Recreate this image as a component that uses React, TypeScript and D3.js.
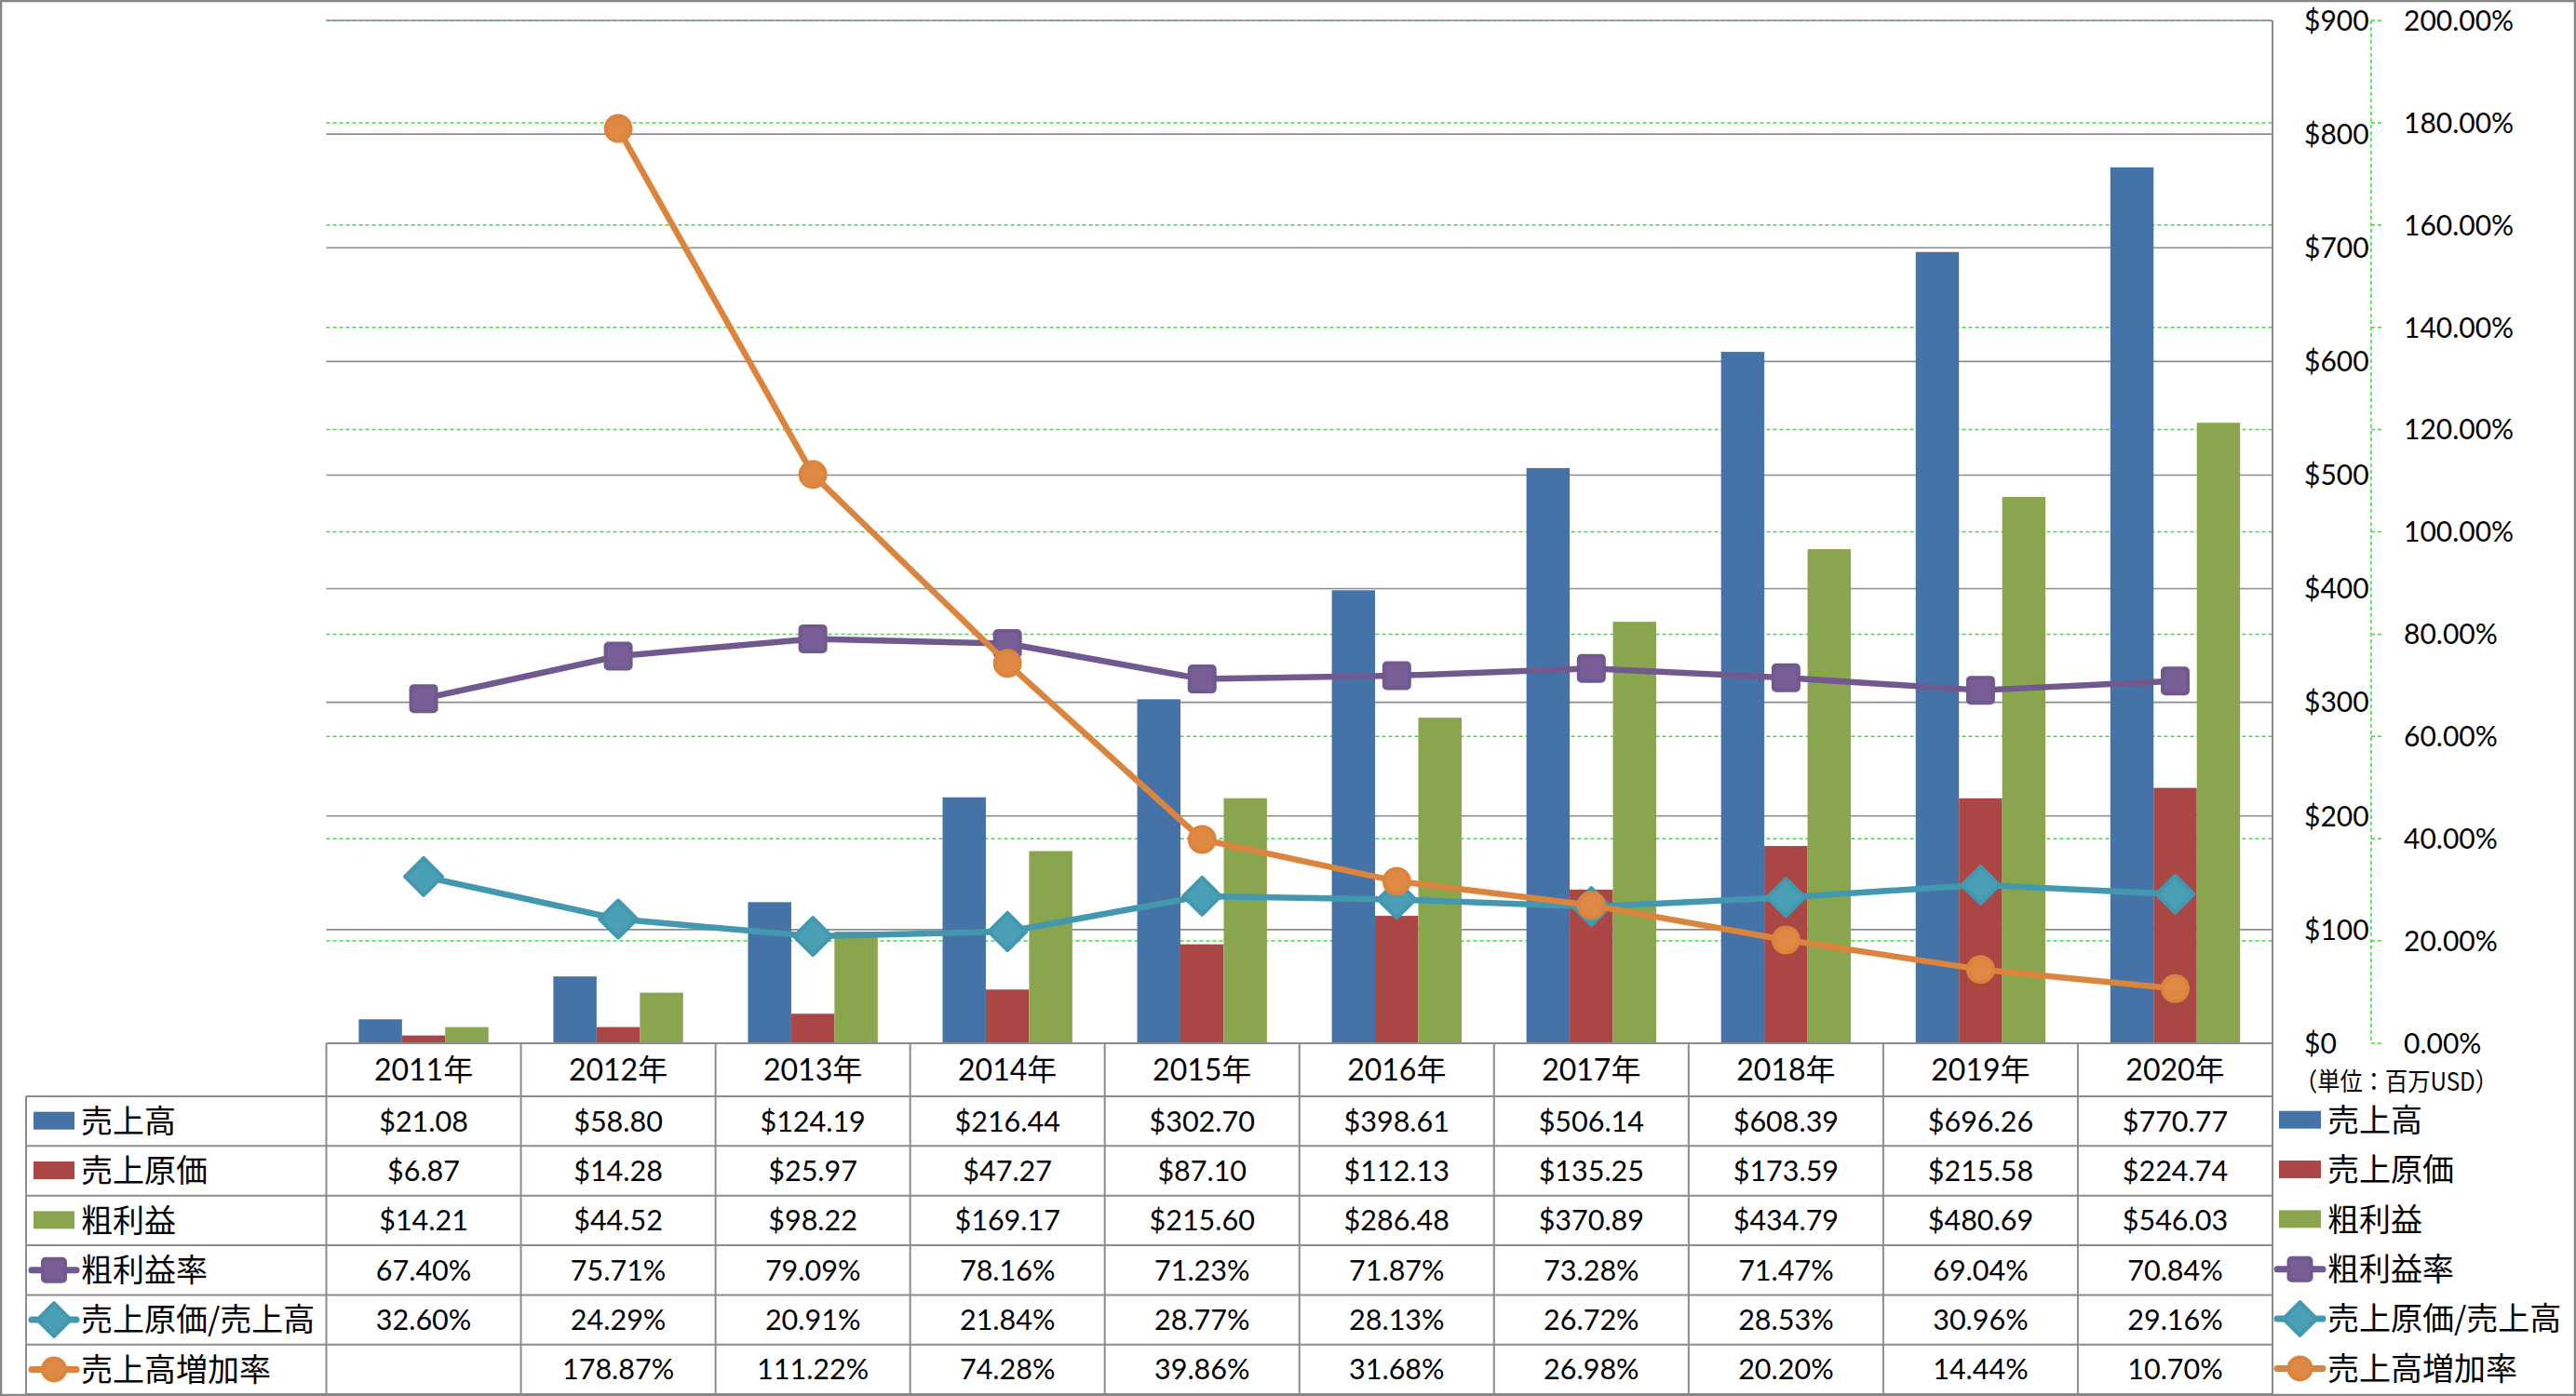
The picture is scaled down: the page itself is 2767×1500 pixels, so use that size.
import React, { useEffect } from "react";
import * as d3 from "d3";

const years = ["2011年", "2012年", "2013年", "2014年", "2015年", "2016年", "2017年", "2018年", "2019年", "2020年"];
const sales = [21.08, 58.8, 124.19, 216.44, 302.7, 398.61, 506.14, 608.39, 696.26, 770.77];
const cogs = [6.87, 14.28, 25.97, 47.27, 87.1, 112.13, 135.25, 173.59, 215.58, 224.74];
const gross = [14.21, 44.52, 98.22, 169.17, 215.6, 286.48, 370.89, 434.79, 480.69, 546.03];
const grossMargin = [67.4, 75.71, 79.09, 78.16, 71.23, 71.87, 73.28, 71.47, 69.04, 70.84];
const cogsRatio = [32.6, 24.29, 20.91, 21.84, 28.77, 28.13, 26.72, 28.53, 30.96, 29.16];
const growth: (number | null)[] = [null, 178.87, 111.22, 74.28, 39.86, 31.68, 26.98, 20.2, 14.44, 10.7];

const primaryTicks = [0, 100, 200, 300, 400, 500, 600, 700, 800, 900];
const secondaryTicks = [0, 20, 40, 60, 80, 100, 120, 140, 160, 180, 200];
const unitLabel = "（単位：百万USD）";

const barSeries = [
  { name: "売上高", values: sales, color: "#4572A7" },
  { name: "売上原価", values: cogs, color: "#AA4643" },
  { name: "粗利益", values: gross, color: "#89A54E" },
];
const lineSeries = [
  { name: "粗利益率", values: grossMargin as (number | null)[], color: "#71588F", fill: "#775E96", marker: "square" },
  { name: "売上原価/売上高", values: cogsRatio as (number | null)[], color: "#4198AF", fill: "#4A9FB5", marker: "diamond" },
  { name: "売上高増加率", values: growth, color: "#DB843D", fill: "#DE8A45", marker: "circle" },
];

const W = 2767;
const H = 1500;
const plotL = 350.5;
const plotR = 2441;
const plotT = 22;
const plotB = 1121;
const headerB = 1178;
const rowH = 53.35;
const tableL = 28;
const FONT = "Lato, 'Noto Sans CJK JP', sans-serif";
const JFONT = "'Noto Sans CJK JP', Lato, sans-serif";
const GRID = "#8C8C8C";
const GREEN = "#22EE22";

function Marker({ type, x, y, size, color, fill }: { type: string; x: number; y: number; size: number; color: string; fill: string }) {
  const h = size / 2;
  if (type === "square") {
    return <rect x={x - h + 2} y={y - h + 2} width={size - 4} height={size - 4} rx={3} fill={fill} stroke={color} strokeWidth={4} strokeLinejoin="round" />;
  }
  if (type === "diamond") {
    const d = h * 1.42 - 2;
    return <path d={`M${x},${y - d}L${x + d},${y}L${x},${y + d}L${x - d},${y}Z`} fill={fill} stroke={color} strokeWidth={4} strokeLinejoin="round" />;
  }
  return <circle cx={x} cy={y} r={h - 2} fill={fill} stroke={color} strokeWidth={4} />;
}

export default function App() {
  useEffect(() => {
    document.body.style.margin = "0";
    document.body.style.overflow = "hidden";
  }, []);

  const x = d3.scaleBand<string>().domain(years).range([plotL, plotR]).padding(0);
  const bw = x.bandwidth();
  const barW = bw / 4.5;
  const sub = d3.scaleBand<string>().domain(barSeries.map((s) => s.name)).range([barW * 0.75, bw - barW * 0.75]).padding(0);
  const y1 = d3.scaleLinear().domain([0, 900]).range([plotB, plotT]);
  const y2 = d3.scaleLinear().domain([0, 200]).range([plotB, plotT]);
  const cx = (i: number) => (x(years[i]) as number) + bw / 2;

  const line = d3
    .line<number | null>()
    .defined((d) => d !== null)
    .x((_, i) => cx(i))
    .y((d) => y2(d as number));

  const rowY = (r: number) => headerB + r * rowH;
  const rows = [
    ...barSeries.map((s) => ({ ...s, kind: "bar", fmt: (v: number | null) => (v == null ? "" : "$" + v.toFixed(2)) })),
    ...lineSeries.map((s) => ({ ...s, kind: "line", fmt: (v: number | null) => (v == null ? "" : v.toFixed(2) + "%") })),
  ];

  const legendKey = (s: any, x0: number, x1: number, yc: number, msize: number) => {
    if (s.kind === "bar") {
      return <rect x={x0 + 2} y={yc - 10} width={x1 - x0 - 4} height={19} fill={s.color} />;
    }
    return (
      <g>
        <line x1={x0} x2={x1} y1={yc} y2={yc} stroke={s.color} strokeWidth={7} strokeLinecap="round" />
        <Marker type={s.marker} x={(x0 + x1) / 2} y={yc} size={msize} color={s.color} fill={s.fill} />
      </g>
    );
  };

  return (
    <svg width={W} height={H} style={{ position: "absolute", left: 0, top: 0, background: "#fff" }}>
      <rect x={0} y={0} width={W} height={H} fill="#fff" />
      {/* secondary gridlines (green dashed) */}
      {secondaryTicks.slice(1).map((t) => (
        <line key={"g2" + t} x1={plotL} x2={plotR} y1={y2(t)} y2={y2(t)} stroke={GREEN} strokeWidth={1.5} strokeDasharray="4 3" />
      ))}
      {/* primary gridlines */}
      {primaryTicks.slice(1).map((t) => (
        <line key={"g1" + t} x1={plotL} x2={plotR} y1={y1(t)} y2={y1(t)} stroke={GRID} strokeWidth={1.6} />
      ))}
      {/* bars */}
      {barSeries.map((s) => (
        <g key={s.name}>
          {s.values.map((v, i) => (
            <rect
              key={i}
              x={(x(years[i]) as number) + (sub(s.name) as number)}
              y={y1(v)}
              width={sub.bandwidth()}
              height={plotB - y1(v)}
              fill={s.color}
            />
          ))}
        </g>
      ))}
      {/* lines */}
      {lineSeries.map((s) => (
        <g key={s.name}>
          <path d={line(s.values) || ""} fill="none" stroke={s.color} strokeWidth={6.5} strokeLinejoin="round" strokeLinecap="round" />
          {s.values.map((v, i) =>
            v == null ? null : <Marker key={i} type={s.marker} x={cx(i)} y={y2(v)} size={31} color={s.color} fill={s.fill} />
          )}
        </g>
      ))}
      {/* primary axis line (right) */}
      <line x1={plotR} x2={plotR} y1={plotT} y2={H} stroke={GRID} strokeWidth={2} />
      {primaryTicks.map((t) => (
        <text key={"t1" + t} x={2475} y={y1(t)} dy="0.36em" fontFamily={FONT} fontSize={30} fill="#000">
          {"$" + t}
        </text>
      ))}
      {/* secondary axis */}
      <line x1={2547} x2={2547} y1={plotT} y2={plotB} stroke={GREEN} strokeWidth={1.5} strokeDasharray="4 3" />
      {secondaryTicks.map((t) => (
        <g key={"t2" + t}>
          <line x1={2547} x2={2558} y1={y2(t)} y2={y2(t)} stroke={GREEN} strokeWidth={1.5} strokeDasharray="4 3" />
          <text x={2582} y={y2(t)} dy="0.36em" fontFamily={FONT} fontSize={30} fill="#000">
            {t.toFixed(2) + "%"}
          </text>
        </g>
      ))}
      <text x={2465} y={1162} dy="0.36em" fontFamily={JFONT} fontSize={27} fill="#000" textLength={218} lengthAdjust="spacingAndGlyphs">
        {unitLabel}
      </text>
      {/* data table */}
      <line x1={plotL} x2={plotR} y1={plotB} y2={plotB} stroke={GRID} strokeWidth={2} />
      {d3.range(rows.length + 1).map((r) => (
        <line key={"hr" + r} x1={tableL} x2={plotR} y1={rowY(r)} y2={rowY(r)} stroke={GRID} strokeWidth={2} />
      ))}
      <line x1={tableL} x2={tableL} y1={headerB} y2={H} stroke={GRID} strokeWidth={2} />
      {years.map((yr, i) => (
        <line key={"vc" + i} x1={x(yr) as number} x2={x(yr) as number} y1={plotB} y2={H} stroke={GRID} strokeWidth={2} />
      ))}
      {years.map((yr, i) => (
        <text key={"yr" + i} x={cx(i)} y={(plotB + headerB) / 2} dy="0.36em" textAnchor="middle" fontFamily={FONT} fontSize={32} fill="#000">
          {yr}
        </text>
      ))}
      {rows.map((s: any, r) => {
        const yc = rowY(r) + rowH / 2;
        return (
          <g key={"row" + r}>
            {legendKey(s, 34, 82, yc, 28)}
            <text x={87} y={yc} dy="0.36em" fontFamily={JFONT} fontSize={34} fill="#000">
              {s.name}
            </text>
            {s.values.map((v: number | null, i: number) => (
              <text key={i} x={cx(i)} y={yc} dy="0.36em" textAnchor="middle" fontFamily={FONT} fontSize={30.5} fill="#000">
                {s.fmt(v)}
              </text>
            ))}
            {legendKey(s, 2446, 2495, yc - 1, 28)}
            <text x={2500} y={yc - 1} dy="0.36em" fontFamily={JFONT} fontSize={34} fill="#000">
              {s.name}
            </text>
          </g>
        );
      })}
      {/* outer frame */}
      <rect x={1} y={1} width={W - 2} height={H - 2} fill="none" stroke="#868686" strokeWidth={2.5} />
    </svg>
  );
}
